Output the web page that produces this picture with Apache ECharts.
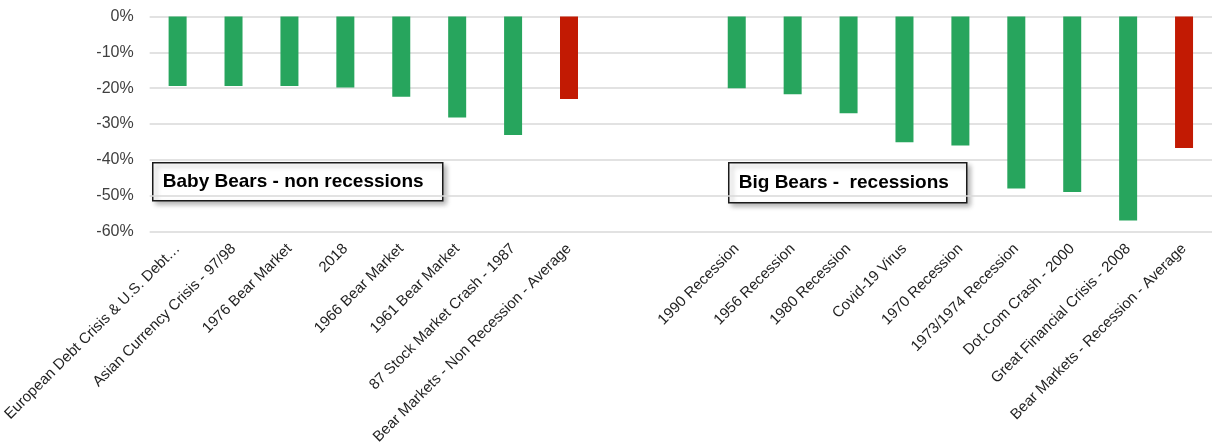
<!DOCTYPE html>
<html>
<head>
<meta charset="utf-8">
<script src="https://cdn.jsdelivr.net/npm/echarts@6/dist/echarts.min.js"></script>
<style>
html,body{margin:0;padding:0;background:#fff;}
#chart{width:1212px;height:448px;}
</style>
</head>
<body>
<div id="chart"></div>
<script>
const babyCategories = ['European Debt Crisis & U.S. Debt…', 'Asian Currency Crisis - 97/98', '1976 Bear Market', '2018', '1966 Bear Market', '1961 Bear Market', '87 Stock Market Crash - 1987', 'Bear Markets - Non Recession - Average'];
const babyValues = [-19.4, -19.4, -19.4, -19.8, -22.4, -28.2, -33.1, -23.0];
const gapCategories = ['', ''];
const bigCategories = ['1990 Recession', '1956 Recession', '1980 Recession', 'Covid-19 Virus', '1970 Recession', '1973/1974 Recession', 'Dot.Com Crash - 2000', 'Great Financial Crisis - 2008', 'Bear Markets - Recession - Average'];
const bigValues = [-20.0, -21.7, -27.0, -35.1, -36.0, -48.0, -49.0, -56.9, -36.7];
const yTicks = [0, -10, -20, -30, -40, -50, -60];
const boxLabels = ['Baby Bears - non recessions', 'Big Bears -  recessions'];

const GREEN = '#27A55D';
const RED = '#C21A03';

const categories = babyCategories.concat(gapCategories, bigCategories);
const barData = [];
babyValues.forEach((v, i) => barData.push({ value: v, itemStyle: { color: i === babyValues.length - 1 ? RED : GREEN } }));
gapCategories.forEach(() => barData.push({ value: null }));
bigValues.forEach((v, i) => barData.push({ value: v, itemStyle: { color: i === bigValues.length - 1 ? RED : GREEN } }));

const FONT = '"Liberation Sans", Arial, sans-serif';

function box(x, y, w, h, label) {
  return {
    type: 'group',
    left: x, top: y,
    children: [
      { type: 'rect', shape: { x: 0, y: 0, width: w, height: h },
        style: { fill: '#fff', stroke: '#1a1a1a', lineWidth: 1.5,
                 shadowBlur: 5, shadowOffsetX: 3, shadowOffsetY: 3, shadowColor: 'rgba(0,0,0,0.3)' } },
      { type: 'text', x: 10, y: h / 2,
        style: { text: label, fill: '#000', font: 'bold 19px ' + FONT, verticalAlign: 'middle', textAlign: 'left' } }
    ]
  };
}

const chart = echarts.init(document.getElementById('chart'));
chart.setOption({
  animation: false,
  backgroundColor: '#fff',
  grid: { left: 149, right: -6, top: 16.5, bottom: 216.5, containLabel: false },
  xAxis: {
    type: 'category',
    data: categories,
    position: 'bottom',
    axisLine: { show: false, onZero: false },
    axisTick: { show: false },
    splitLine: { show: false },
    axisLabel: { interval: 0, rotate: 45, fontSize: 15, fontFamily: FONT, color: '#1f1f1f', margin: 15 }
  },
  yAxis: {
    type: 'value',
    min: yTicks[yTicks.length - 1], max: yTicks[0], interval: 10,
    axisLine: { show: false },
    axisTick: { show: false },
    splitLine: { lineStyle: { color: '#D9D9D9', width: 1.5 } },
    axisLabel: { formatter: '{value}%', fontSize: 16, fontFamily: FONT, color: '#404040', margin: 16 }
  },
  series: [{
    type: 'bar',
    data: barData,
    barWidth: 18
  }],
  graphic: [
    box(152, 162, 290, 38, boxLabels[0]),
    box(728, 162, 238, 40, boxLabels[1])
  ]
});
</script>
</body>
</html>
